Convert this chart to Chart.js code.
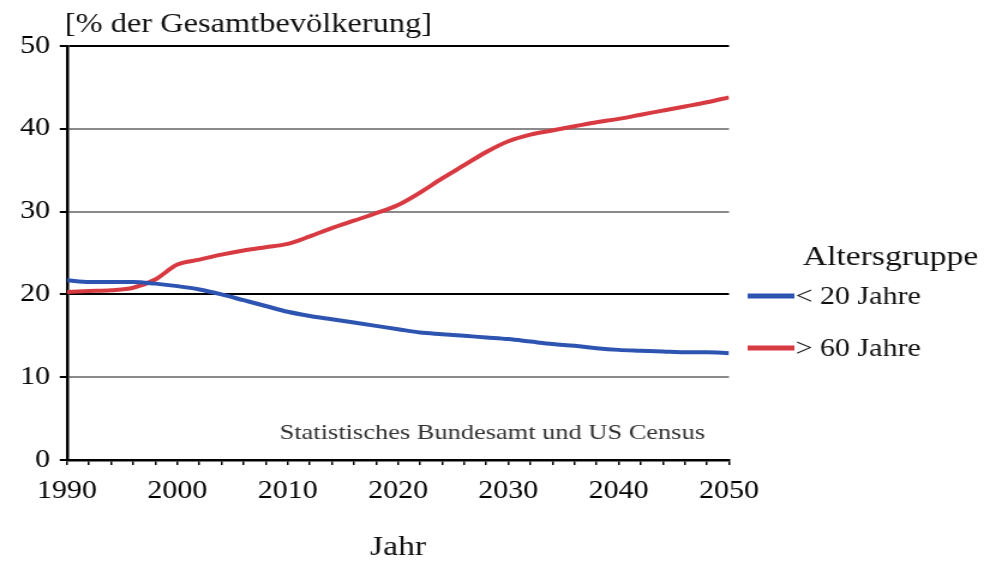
<!DOCTYPE html>
<html>
<head>
<meta charset="utf-8">
<script src="https://cdn.jsdelivr.net/npm/chart.js@4"></script>
<style>
  html, body { margin: 0; padding: 0; background: #fff; overflow: hidden; }
  /* the reference picture is stretched sideways, so stretch the canvas too */
  #wrap { width: 834px; height: 562px; transform: scale(1.2, 1); transform-origin: 0 0; }
</style>
</head>
<body>
<div id="wrap"><canvas id="chart" width="834" height="562"></canvas></div>
<script>
const years = [1990, 1992, 1994, 1996, 1998, 2000, 2002, 2004, 2006, 2008, 2010,
  2012, 2014, 2016, 2018, 2020, 2022, 2024, 2026, 2028, 2030,
  2032, 2034, 2036, 2038, 2040, 2042, 2044, 2046, 2048, 2050];

// share of total population
const under20 = [21.7, 21.5, 21.5, 21.5, 21.3, 21.0, 20.6, 20.0, 19.3, 18.6, 17.9,
  17.4, 17.0, 16.6, 16.2, 15.8, 15.4, 15.2, 15.0, 14.8, 14.6,
  14.3, 14.0, 13.8, 13.5, 13.3, 13.2, 13.1, 13.0, 13.0, 12.9];
const over60 = [20.3, 20.4, 20.5, 20.8, 21.8, 23.6, 24.2, 24.8, 25.3, 25.7, 26.1,
  27.0, 28.0, 28.9, 29.8, 30.8, 32.3, 34.0, 35.6, 37.2, 38.5,
  39.3, 39.8, 40.3, 40.8, 41.2, 41.7, 42.2, 42.7, 43.2, 43.8];

const seriesLabels = ["< 20 Jahre", "> 60 Jahre"];
const yTitle = "[% der Gesamtbevölkerung]";
const xTitle = "Jahr";
const legendTitle = "Altersgruppe";
const sourceNote = "Statistisches Bundesamt und US Census";

const serif = "'Liberation Serif', 'Times New Roman', serif";
const blue = "rgb(46, 84, 178)";
const red = "rgb(216, 58, 66)";

// texts and legend drawn by hand, same as in the picture
const extraText = {
  id: "extraText",
  afterDraw(chart) {
    const ctx = chart.ctx;
    ctx.save();
    ctx.fillStyle = "#111";
    ctx.textAlign = "left";
    ctx.textBaseline = "alphabetic";
    ctx.font = "27px " + serif;
    ctx.fillText(yTitle, 54, 32);

    ctx.fillStyle = "#333";
    ctx.font = "22px " + serif;
    ctx.fillText(sourceNote, 233, 439);

    // legend
    ctx.fillStyle = "#111";
    ctx.font = "28px " + serif;
    ctx.fillText(legendTitle, 669, 265);
    ctx.font = "25px " + serif;
    ctx.textBaseline = "middle";
    const rows = [296, 348];
    chart.data.datasets.forEach((ds, i) => {
      ctx.strokeStyle = ds.borderColor;
      ctx.lineWidth = 5;
      ctx.beginPath();
      ctx.moveTo(623, rows[i]);
      ctx.lineTo(662, rows[i]);
      ctx.stroke();
      ctx.fillText(ds.label, 663, rows[i] + 1);
    });
    ctx.restore();
  },
};

const ctx = document.getElementById("chart").getContext("2d");
new Chart(ctx, {
  type: "line",
  data: {
    datasets: [
      {
        label: seriesLabels[0],
        data: years.map((y, i) => ({ x: y, y: under20[i] })),
        borderColor: blue,
        backgroundColor: blue,
        borderWidth: 4,
        pointRadius: 0,
        cubicInterpolationMode: "monotone",
      },
      {
        label: seriesLabels[1],
        data: years.map((y, i) => ({ x: y, y: over60[i] })),
        borderColor: red,
        backgroundColor: red,
        borderWidth: 4,
        pointRadius: 0,
        cubicInterpolationMode: "monotone",
      },
    ],
  },
  options: {
    responsive: false,
    animation: false,
    layout: {
      padding: { top: 46, right: 226.5, left: 0, bottom: 0 },
    },
    plugins: {
      legend: { display: false },
      tooltip: { enabled: false },
    },
    scales: {
      x: {
        type: "linear",
        min: 1990,
        max: 2050,
        afterFit: (scale) => { scale.height = 102; },
        ticks: {
          stepSize: 2,
          autoSkip: false,
          maxRotation: 0,
          padding: 11,
          color: "#000",
          font: { family: serif, size: 25 },
          callback: (v) => (v % 10 === 0 ? String(v) : ""),
        },
        grid: {
          drawOnChartArea: false,
          drawTicks: true,
          tickLength: 5,
          color: "#000",
          lineWidth: 1.5,
        },
        border: { color: "#000", width: 2.5 },
        title: {
          display: true,
          text: xTitle,
          color: "#111",
          font: { family: serif, size: 28, lineHeight: 1 },
          padding: { top: 0, bottom: 0 },
        },
      },
      y: {
        min: 0,
        max: 50,
        afterFit: (scale) => { scale.width = 55.8; },
        ticks: {
          stepSize: 10,
          padding: 8,
          color: "#000",
          font: { family: serif, size: 25 },
        },
        grid: {
          color: (c) => (c.tick && (c.tick.value === 20 || c.tick.value === 50) ? "#000" : "#8a8a8a"),
          lineWidth: 2,
          tickLength: 6,
          tickColor: "#000",
        },
        border: { color: "#000", width: 2.5 },
      },
    },
  },
  plugins: [extraText],
});
</script>
</body>
</html>
